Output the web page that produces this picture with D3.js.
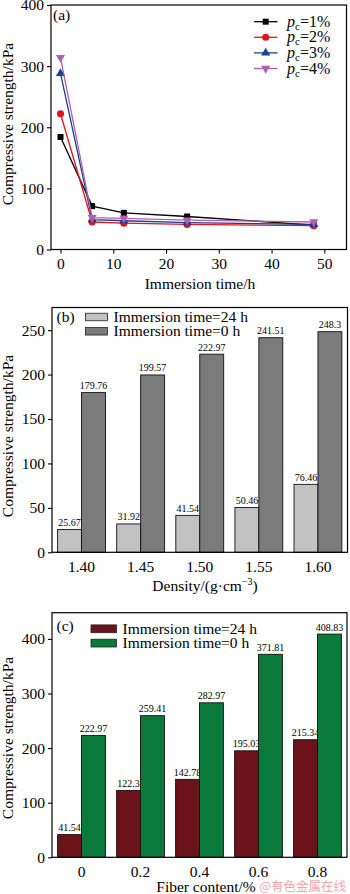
<!DOCTYPE html>
<html><head><meta charset="utf-8">
<script src="https://cdn.jsdelivr.net/npm/d3@7"></script>
<style>
html,body{margin:0;padding:0;background:#fff;}
svg text{font-family:"Liberation Serif","Times New Roman",serif;}
</style></head>
<body><svg id="c" width="350" height="894"></svg>
<script>
// ---- Panel (a) data ----
const timeH = [0, 6, 12, 24, 48];
const pc1 = [184, 71, 60, 54, 40];
const pc2 = [222, 45, 43, 41, 39];
const pc3 = [288, 49, 47, 44, 41];
const pc4 = [314, 52, 51, 48, 45];
const pcNames = ["1%", "2%", "3%", "4%"];
const aXTicks = [0, 10, 20, 30, 40, 50];
const aYTicks = [0, 100, 200, 300, 400];
// ---- Panel (b) data ----
const densities = ["1.40", "1.45", "1.50", "1.55", "1.60"];
const dens24h = [25.67, 31.92, 41.54, 50.46, 76.46];
const dens0h = [179.76, 199.57, 222.97, 241.51, 248.3];
const bYTicks = [0, 50, 100, 150, 200, 250];
// ---- Panel (c) data ----
const fiber = ["0", "0.2", "0.4", "0.6", "0.8"];
const fiber24h = [41.54, 122.3, 142.78, 195.03, 215.34];
const fiber0h = [222.97, 259.41, 282.97, 371.81, 408.83];
const cYTicks = [0, 100, 200, 300, 400];
const legendLabels = ["Immersion time=24 h", "Immersion time=0 h"];

const svg = d3.select("#c");
const FS = 15.5;

function frame(g, x0, x1, y0, y1) {
  g.append("rect").attr("x", x0).attr("y", y0).attr("width", x1 - x0).attr("height", y1 - y0)
    .attr("fill", "none").attr("stroke", "#000").attr("stroke-width", 1.2);
}
function styleAxis(sel) {
  sel.select(".domain").remove();
  sel.selectAll(".tick line").attr("stroke", "#000").attr("stroke-width", 1.1);
  sel.selectAll(".tick text").attr("fill", "#000").style("font-size", FS + "px")
    .style("font-family", "'Liberation Serif','Times New Roman',serif");
}
function yTitle(x, y) {
  svg.append("text").attr("transform", `translate(${x},${y}) rotate(-90)`)
    .attr("text-anchor", "middle").style("font-size", FS + "px").text("Compressive strength/kPa");
}

// ================= Panel (a) =================
{
  const L = 51, R = 346.5, T = 5, B = 249.5;
  const x = d3.scaleLinear().domain([-1.8, 54.2]).range([L, R]);
  const y = d3.scaleLinear().domain([0, 400]).range([B, T]);
  const g = svg.append("g");
  const ax = g.append("g").attr("transform", `translate(0,${B})`)
    .call(d3.axisBottom(x).tickValues(aXTicks).tickSize(4).tickPadding(4));
  styleAxis(ax);
  const ay = g.append("g").attr("transform", `translate(${L},0)`)
    .call(d3.axisLeft(y).tickValues(aYTicks).tickSize(4).tickPadding(3));
  styleAxis(ay);
  frame(g, L, R, T, B);
  const series = [pc1, pc2, pc3, pc4];
  const colors = ["#000000", "#e3141e", "#1c3f8e", "#b15fb0"];
  const shapes = [d3.symbolSquare, d3.symbolCircle, d3.symbolTriangle, d3.symbolTriangle];
  const sizes = [36, 40, 36, 36];
  const rot = [0, 0, 0, 180];
  const line = d3.line().x((d, i) => x(timeH[i])).y(d => y(d));
  series.forEach((s, k) => {
    g.append("path").datum(s).attr("d", line).attr("fill", "none")
      .attr("stroke", colors[k]).attr("stroke-width", 1.3);
    g.selectAll(null).data(s).enter().append("path")
      .attr("d", d3.symbol().type(shapes[k]).size(sizes[k]))
      .attr("transform", (d, i) => `translate(${x(timeH[i])},${y(d)}) rotate(${rot[k]})`)
      .attr("fill", colors[k]);
  });
  // legend
  pcNames.forEach((n, k) => {
    const yy = 21.7 + k * 15.6;
    g.append("line").attr("x1", 254).attr("x2", 277.5).attr("y1", yy).attr("y2", yy)
      .attr("stroke", colors[k]).attr("stroke-width", 1.3);
    g.append("path").attr("d", d3.symbol().type(shapes[k]).size(sizes[k]))
      .attr("transform", `translate(265.7,${yy}) rotate(${rot[k]})`).attr("fill", colors[k]);
    const t = g.append("text").attr("x", 287).attr("y", yy + 5).style("font-size", "16px");
    t.append("tspan").style("font-style", "italic").text("p");
    t.append("tspan").attr("dy", 3).style("font-size", "11px").text("c");
    t.append("tspan").attr("dy", -3).text("=" + n);
  });
  g.append("text").attr("x", 53).attr("y", 20).style("font-size", FS + "px").text("(a)");
  g.append("text").attr("x", 200).attr("y", 288.5).attr("text-anchor", "middle")
    .style("font-size", FS + "px").text("Immersion time/h");
  yTitle(12.5, 124);
}

// ================= Bar panels =================
function barPanel(opt) {
  const { L, R, T, B, ymax, cats, s24, s0, ticks, cols, tag, xtitle, xtitleY, tagY, legX, legTextX, legY, swH } = opt;
  const g = svg.append("g");
  const x0 = d3.scaleBand().domain(cats).range([L, R]).paddingInner(0.19).paddingOuter(0.095);
  const x1 = d3.scaleBand().domain([0, 1]).range([0, x0.bandwidth()]);
  const y = d3.scaleLinear().domain([0, ymax]).range([B, T]);
  const ax = g.append("g").attr("transform", `translate(0,${B})`)
    .call(d3.axisBottom(x0).tickSize(0).tickPadding(9));
  styleAxis(ax);
  const ay = g.append("g").attr("transform", `translate(${L},0)`)
    .call(d3.axisLeft(y).tickValues(ticks).tickSize(4).tickPadding(3));
  styleAxis(ay);
  [s24, s0].forEach((s, k) => {
    g.selectAll(null).data(s).enter().append("rect")
      .attr("x", (d, i) => x0(cats[i]) + x1(k))
      .attr("y", d => y(d))
      .attr("width", x1.bandwidth())
      .attr("height", d => B - y(d))
      .attr("fill", cols[k]).attr("stroke", "#111").attr("stroke-width", 0.9);
    g.selectAll(null).data(s).enter().append("text")
      .attr("x", (d, i) => x0(cats[i]) + x1(k) + x1.bandwidth() / 2)
      .attr("y", d => y(d) - 3.5)
      .attr("text-anchor", "middle").style("font-size", "10px").text(d => d);
  });
  frame(g, L, R, T, B);
  // legend
  legendLabels.forEach((lab, k) => {
    const yy = legY + k * 14.3;
    g.append("rect").attr("x", legX).attr("y", yy - swH / 2).attr("width", legTextX - 6 - legX).attr("height", swH)
      .attr("fill", cols[k]).attr("stroke", "#222").attr("stroke-width", 0.8);
    g.append("text").attr("x", legTextX).attr("y", yy + 5).style("font-size", FS + "px").text(lab);
  });
  g.append("text").attr("x", L + 4.5).attr("y", tagY).style("font-size", FS + "px").text(tag);
  return g;
}

{
  const g = barPanel({ L: 52, R: 347.5, T: 307.5, B: 552.3, ymax: 275.5, cats: densities, s24: dens24h, s0: dens0h,
    ticks: bYTicks, cols: ["#c2c2c2", "#7b7b7b"], tag: "(b)", tagY: 322,
    legX: 85.5, legTextX: 113.5, legY: 317, swH: 7.5 });
  const t = g.append("text").attr("x", 205).attr("y", 590.5).attr("text-anchor", "middle").style("font-size", FS + "px");
  t.append("tspan").text("Density/(g\u00B7cm");
  t.append("tspan").attr("dy", -6).style("font-size", "10px").text("\u22123");
  t.append("tspan").attr("dy", 6).text(")");
  yTitle(12.5, 436);
}
{
  const g = barPanel({ L: 52, R: 347, T: 612.7, B: 857.3, ymax: 448, cats: fiber, s24: fiber24h, s0: fiber0h,
    ticks: cYTicks, cols: ["#6c1319", "#0a7a3b"], tag: "(c)", tagY: 631,
    legX: 91, legTextX: 122.5, legY: 628.8, swH: 7.8 });
  g.append("text").attr("x", 206).attr("y", 892).attr("text-anchor", "middle").style("font-size", FS + "px")
    .text("Fiber content/%");
  g.append("text").attr("x", 346).attr("y", 891).attr("text-anchor", "end").attr("fill", "#f2a6ad")
    .style("font-size", "12.5px").style("font-family", "'Noto Sans CJK SC',sans-serif").text("@有色金属在线");
  yTitle(12.5, 738);
}
</script></body></html>
